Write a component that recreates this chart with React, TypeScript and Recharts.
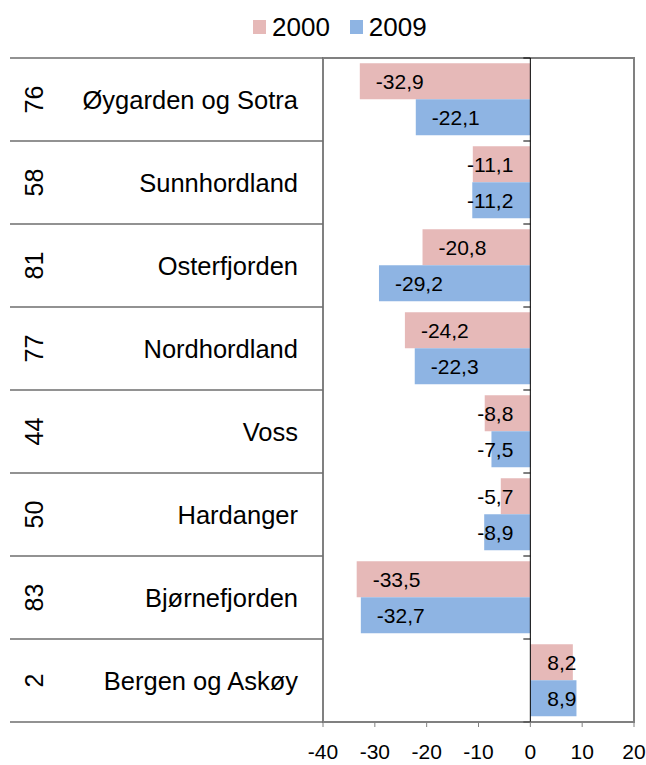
import React from 'react';
import { BarChart, Bar, XAxis, YAxis, ReferenceLine, ReferenceArea, LabelList, Legend } from 'recharts';

const regions = [
  'Øygarden og Sotra',
  'Sunnhordland',
  'Osterfjorden',
  'Nordhordland',
  'Voss',
  'Hardanger',
  'Bjørnefjorden',
  'Bergen og Askøy',
];
const codes = [76, 58, 81, 77, 44, 50, 83, 2];
const values2000 = [-32.9, -11.1, -20.8, -24.2, -8.8, -5.7, -33.5, 8.2];
const values2009 = [-22.1, -11.2, -29.2, -22.3, -7.5, -8.9, -32.7, 8.9];
const xTicks = [-40, -30, -20, -10, 0, 10, 20];

const data = regions.map((name, i) => ({
  name,
  code: codes[i],
  y2000: values2000[i],
  y2009: values2009[i],
}));

const FONT = '"Liberation Sans", Arial, sans-serif';
const PINK = '#E6B9B8';
const BLUE = '#8EB4E3';
const GRAY = '#808080';

let ctx: CanvasRenderingContext2D | null = null;
function textWidth(s: string, size: number) {
  if (!ctx) ctx = document.createElement('canvas').getContext('2d');
  if (!ctx) return s.length * size * 0.5;
  ctx.font = `${size}px ${FONT}`;
  return ctx.measureText(s).width;
}

const fmt = (v: number) => v.toFixed(1).replace('.', ',');

// excel style "inside end" label, pushed away from the zero line when bar is short
function BarValue(props: any) {
  const { x, y, width, height, value } = props;
  if (value == null) return null;
  const left = Math.min(x, x + width);
  const right = Math.max(x, x + width);
  const label = fmt(value);
  const w = textWidth(label, 21);
  const tx = value < 0 ? Math.min(left + 16, right - 17 - w) : Math.max(right - 17 - w, left + 17);
  return (
    <text x={tx} y={y + height / 2} dy="0.36em" textAnchor="start" fontSize={21} fontFamily={FONT} fill="#000">
      {label}
    </text>
  );
}

function RegionTick(props: any) {
  const { x, y, payload, index } = props;
  const half = payload && payload.offset > 5 ? payload.offset : 41.5;
  const row = data.find((d) => d.name === payload.value) || data[index];
  return (
    <g>
      <line x1={x - 313} x2={x} y1={y - half} y2={y - half} stroke="#6e6e6e" strokeWidth={1.5} />
      {index === data.length - 1 && (
        <line x1={x - 313} x2={x} y1={y + half} y2={y + half} stroke="#6e6e6e" strokeWidth={1.5} />
      )}
      <text x={x - 25} y={y} dy="0.36em" textAnchor="end" fontSize={25.5} fontFamily={FONT} fill="#000">
        {payload.value}
      </text>
      <text
        x={x - 289}
        y={y}
        dy="0.36em"
        textAnchor="middle"
        fontSize={25}
        fontFamily={FONT}
        fill="#000"
        transform={`rotate(-90 ${x - 289} ${y})`}
      >
        {row.code}
      </text>
    </g>
  );
}

function ZeroAxis(props: any) {
  const { x1, y1, x2, y2 } = props;
  const top = Math.min(y1, y2);
  const bottom = Math.max(y1, y2);
  const step = (bottom - top) / regions.length;
  return (
    <g>
      <line x1={x1} y1={y1} x2={x2} y2={y2} stroke="#000" strokeWidth={1} />
      {Array.from({ length: regions.length + 1 }, (_, i) => (
        <line key={i} x1={x1 - 7} x2={x1} y1={top + i * step} y2={top + i * step} stroke="#000" strokeWidth={1} />
      ))}
    </g>
  );
}

function LegendBox(props: any) {
  const { payload } = props;
  return (
    <div
      style={{
        height: 58,
        display: 'flex',
        alignItems: 'center',
        paddingLeft: 253,
        paddingBottom: 4,
        boxSizing: 'border-box',
        fontFamily: FONT,
        fontSize: 26,
        color: '#000',
      }}
    >
      {(payload || []).map((p: any, i: number) => (
        <div key={i} style={{ display: 'flex', alignItems: 'center', marginRight: 20 }}>
          <span style={{ width: 13, height: 14, background: p.color, marginRight: 6, display: 'inline-block' }} />
          <span>{p.value}</span>
        </div>
      ))}
    </div>
  );
}

export default function App() {
  return (
    <div style={{ position: 'absolute', left: 0, top: 0, width: 646, height: 765, background: '#fff' }}>
      <BarChart
        width={646}
        height={765}
        data={data}
        layout="vertical"
        margin={{ top: 0, right: 12, bottom: 0, left: 0 }}
        barCategoryGap="6.4%"
        barGap={0}
      >
        <Legend verticalAlign="top" align="left" content={<LegendBox />} />
        <XAxis
          type="number"
          domain={[-40, 20]}
          ticks={xTicks}
          interval={0}
          height={43}
          tickSize={5}
          tickMargin={17}
          stroke={GRAY}
          tick={{ fill: '#000', fontSize: 21, fontFamily: FONT }}
        />
        <YAxis
          type="category"
          dataKey="name"
          width={323}
          interval={0}
          tickLine={false}
          axisLine={false}
          tickSize={0}
          tickMargin={0}
          tick={<RegionTick />}
        />
        <ReferenceArea x1={-40} x2={20} fill="none" stroke={GRAY} strokeWidth={2} />
        <Bar dataKey="y2000" name="2000" fill={PINK} isAnimationActive={false}>
          <LabelList dataKey="y2000" content={<BarValue />} />
        </Bar>
        <Bar dataKey="y2009" name="2009" fill={BLUE} isAnimationActive={false}>
          <LabelList dataKey="y2009" content={<BarValue />} />
        </Bar>
        <ReferenceLine x={0} shape={<ZeroAxis />} />
      </BarChart>
    </div>
  );
}
